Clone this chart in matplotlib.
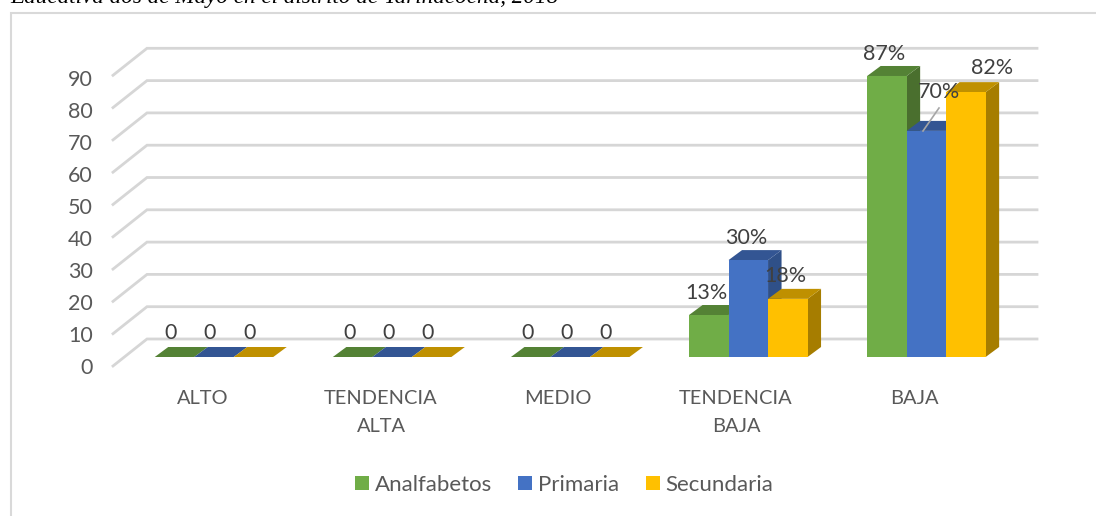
import matplotlib
matplotlib.use("Agg")
import matplotlib.pyplot as plt
from matplotlib.patches import Polygon, Rectangle

plt.rcParams['font.family'] = ['Lato', 'DejaVu Sans']

# data
categories = ["ALTO", "TENDENCIA\nALTA", "MEDIO", "TENDENCIA\nBAJA", "BAJA"]
series_names = ["Analfabetos", "Primaria", "Secundaria"]
analfabetos = [0, 0, 0, 13, 87]
primaria = [0, 0, 0, 30, 70]
secundaria = [0, 0, 0, 18, 82]
y_ticks = [0, 10, 20, 30, 40, 50, 60, 70, 80, 90]
labels_a = ["0", "0", "0", "13%", "87%"]
labels_p = ["0", "0", "0", "30%", "70%"]
labels_s = ["0", "0", "0", "18%", "82%"]

W, H = 1096, 516
X0, XSTEP = 214.0, 178.1   # pixel centre of first group, group spacing
Y0, YSCALE = 357.0, 3.23   # pixel of value 0, pixels per unit

front = ['#70AD47', '#4472C4', '#FFC000']
top = ['#548235', '#335593', '#BF9000']
side = ['#4A6F2E', '#2F5088', '#A67D00']
GRID = '#D6D6D6'
TEXT = '#595959'
LABEL = '#404040'

fig = plt.figure(figsize=(W/100, H/100), dpi=100)
ax = fig.add_axes([0, 0, 1, 1])
ax.set_xlim(-X0/XSTEP, (W-X0)/XSTEP)
ax.set_ylim((Y0-H)/YSCALE, Y0/YSCALE)
ax.axis('off')


def px(x):
    return (x-X0)/XSTEP


def py(y):
    return (Y0-y)/YSCALE


# frame runs off the right and bottom of the picture
ax.add_patch(Rectangle((px(11), py(H+5)), px(W+5)-px(11), py(13)-py(H+5),
                       fill=False, ec='#D9D9D9', lw=1.5, zorder=1))
ax.text(px(10), py(3), "Educativa dos de Mayo en el distrito de Yarinacocha, 2018",
        family='Liberation Serif', style='italic', fontsize=16.7, color='black',
        va='baseline', ha='left', zorder=1)

# floor/back gridlines
back_dy = 27/YSCALE
for v in y_ticks:
    yb = py(339) + v
    ax.plot([px(113), px(147), px(1037)], [yb-back_dy, yb, yb], color=GRID, lw=2,
            solid_joinstyle='miter', zorder=2)
    ax.text(px(93), py(367.5-v*3.2), str(v), color=TEXT, fontsize=15.5,
            ha='right', va='center', zorder=6)

# 3d bars
bw = 39.5/XSTEP
dx, dy = 13.5/XSTEP, 10/YSCALE
all_vals = [analfabetos, primaria, secundaria]
for s, vals in enumerate(all_vals):
    off = (s-1)*bw
    z = 3+s*0.1
    for i, v in enumerate(vals):
        xl, xr = i+off-bw/2, i+off+bw/2
        ax.add_patch(Polygon([(xr, 0), (xr+dx, dy), (xr+dx, v+dy), (xr, v)],
                             fc=side[s], ec='none', zorder=z))
        ax.add_patch(Polygon([(xl, v), (xl+dx, v+dy), (xr+dx, v+dy), (xr, v)],
                             fc=top[s], ec='none', zorder=z))
    ax.bar([i+off for i in range(len(vals))], vals, width=bw, color=front[s], zorder=z+0.01)

# data labels
label_pos = [
    [(171, 333), (350, 333), (528, 333), (706, 293), (884, 54)],
    [(210, 333), (389, 333), (567, 333), (746, 238), (939, 92)],
    [(250, 333), (428, 333), (606, 333), (785, 276), (992, 68)],
]
all_labels = [labels_a, labels_p, labels_s]
for s, labs in enumerate(all_labels):
    for i, t in enumerate(labs):
        ax.text(px(label_pos[s][i][0]), py(label_pos[s][i][1]), t, color=LABEL,
                fontsize=15.5, ha='center', va='center', zorder=8)
# leader line of the 70% label
ax.plot([px(923), px(939)], [py(131), py(108)], color='#A6A6A6', lw=1.2, zorder=7)

# category labels
cat_x = [203, 381, 558, 736, 914]
for i, c in enumerate(categories):
    lines = c.split("\n")
    for k, line in enumerate(lines):
        ax.text(px(cat_x[i]), py(398+k*28), line, color=TEXT, fontsize=14.4,
                ha='center', va='center', zorder=6)

# legend
leg_x = [355, 518, 646]
txt_x = [375, 538, 665]
for k, name in enumerate(series_names):
    ax.add_patch(Rectangle((px(leg_x[k]), py(490)), px(leg_x[k]+14)-px(leg_x[k]), py(476)-py(490),
                           fc=front[k], ec='none', zorder=6))
    ax.text(px(txt_x[k]), py(485), name, color=TEXT, fontsize=16, ha='left', va='center', zorder=6)

fig.savefig("out.png", dpi=100)
